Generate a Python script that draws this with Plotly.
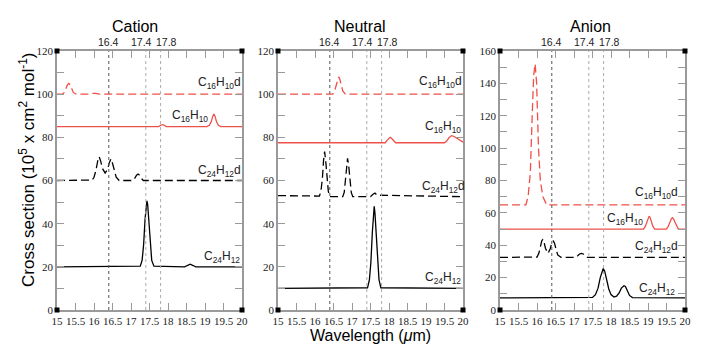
import plotly.graph_objects as go

# ---- data ----
panels = ["Cation", "Neutral", "Anion"]
ymax = [120, 120, 160]
vlines = [16.4, 17.4, 17.8]
vline_labels = ["16.4", "17.4", "17.8"]
xticks = [15, 15.5, 16, 16.5, 17, 17.5, 18, 18.5, 19, 19.5, 20]

# Cation
cat_c16d_x = [15, 15.15, 15.2, 15.24, 15.28, 15.32, 15.36, 15.4, 15.44, 15.5, 15.85, 15.95, 16.05, 16.15, 20]
cat_c16d_y = [100, 100.1, 100.8, 102.5, 104.3, 105, 104.3, 102.5, 100.8, 100.1, 100, 100.4, 100.4, 100, 100]
cat_c16_x = [15, 17.75, 17.82, 17.88, 17.95, 19.05, 19.12, 19.17, 19.21, 19.24, 19.27, 19.31, 19.36, 19.43, 20]
cat_c16_y = [85, 85, 85.8, 85.8, 85, 85, 85.6, 87.3, 89.8, 90.8, 89.8, 87.3, 85.6, 85, 85]
cat_c24d_x = [15, 15.95, 16.0, 16.05, 16.1, 16.14, 16.18, 16.23, 16.3, 16.36, 16.42, 16.46, 16.5, 16.55,
              16.6, 16.68, 17.05, 17.1, 17.15, 17.19, 17.23, 17.28, 17.33, 20]
cat_c24d_y = [60, 60.2, 61.5, 64.5, 69, 71, 69, 65.5, 63.5, 65, 68.5, 70, 68, 64, 61.5, 60,
              60, 61, 62.5, 63, 62.5, 61, 60, 60]
cat_c24_x = [15, 17.25, 17.3, 17.34, 17.38, 17.41, 17.43, 17.45, 17.48, 17.52, 17.56, 17.62,
             18.45, 18.52, 18.6, 18.68, 18.75, 20]
cat_c24_y = [20, 20.3, 23, 30, 42, 49, 50.6, 49, 42, 30, 23, 20.3,
             20, 20.6, 21.2, 20.6, 20, 20]

# Neutral
neu_c16d_x = [15, 16.48, 16.53, 16.57, 16.61, 16.64, 16.67, 16.71, 16.75, 16.82, 20]
neu_c16d_y = [100, 100, 101.5, 104, 107, 108, 107, 104, 101.5, 100, 100]
neu_c16_x = [15, 17.9, 17.95, 18.0, 18.03, 18.06, 18.11, 18.18, 19.5, 19.56, 19.62, 19.69,
             19.76, 19.84, 19.92, 20]
neu_c16_y = [77.5, 77.5, 78.6, 79.7, 80, 79.7, 78.6, 77.5, 77.5, 78.3, 79.8, 80.8,
             80.4, 79.5, 78.4, 77.8]
neu_c24d_x = [15, 16.12, 16.16, 16.2, 16.23, 16.26, 16.29, 16.32, 16.36, 16.4, 16.75, 16.79,
              16.82, 16.85, 16.88, 16.91, 16.94, 16.98, 17.02, 17.5, 17.56, 17.62, 17.68, 20]
neu_c24d_y = [53, 52.8, 55, 61, 69, 73.4, 69, 61, 55, 52.5, 52.5, 54.5, 60, 67, 70.3, 67,
              60, 54.5, 52.5, 52.5, 53.5, 54.2, 53.2, 52.5]
neu_c24_x = [15, 17.42, 17.47, 17.51, 17.55, 17.58, 17.6, 17.62, 17.65, 17.69, 17.73, 17.78, 20]
neu_c24_y = [10, 10.3, 14, 22, 36, 45, 48, 45, 36, 22, 14, 10.3, 10]

# Anion
ani_c16d_x = [15, 15.7, 15.76, 15.82, 15.87, 15.91, 15.95, 15.99, 16.04, 16.09, 16.16, 16.26, 20]
ani_c16d_y = [65, 65, 70, 85, 120, 145, 152, 140, 100, 80, 70, 65, 65]
ani_c16_x = [15, 18.88, 18.93, 18.97, 19.0, 19.03, 19.06, 19.09, 19.13, 19.18, 19.5, 19.55,
             19.59, 19.63, 19.66, 19.69, 19.73, 19.77, 19.82, 20]
ani_c16_y = [50, 50, 51.8, 54.5, 57, 58, 57, 54.5, 51.8, 50, 50, 51.8, 54.2, 56.3, 57,
             56.3, 54.2, 51.8, 50, 50]
ani_c24d_x = [15, 16.0, 16.05, 16.09, 16.13, 16.16, 16.19, 16.23, 16.3, 16.36, 16.4, 16.44,
              16.47, 16.51, 16.56, 16.65, 17.05, 17.1, 17.15, 17.2, 17.25, 17.3, 17.36, 20]
ani_c24d_y = [32.5, 32.7, 35, 39, 42.8, 43.7, 42, 38, 35, 38, 41.5, 42.6, 41.5, 38,
              34, 32.5, 32.5, 33.5, 34.6, 35, 34.6, 33.5, 32.5, 32.5]
ani_c24_x = [15, 17.5, 17.58, 17.65, 17.71, 17.76, 17.79, 17.83, 17.88, 17.94, 18.0, 18.08,
             18.15, 18.22, 18.28, 18.32, 18.35, 18.39, 18.44, 18.5, 18.58, 20]
ani_c24_y = [7.5, 7.8, 9.5, 13.5, 20, 24.5, 25.6, 24, 19, 13, 9.5, 8,
             8.5, 10.5, 13.5, 14.8, 15, 14.5, 12, 9, 7.7, 7.5]

curves = [
    [(cat_c16d_x, cat_c16d_y), (cat_c16_x, cat_c16_y), (cat_c24d_x, cat_c24d_y), (cat_c24_x, cat_c24_y)],
    [(neu_c16d_x, neu_c16d_y), (neu_c16_x, neu_c16_y), (neu_c24d_x, neu_c24d_y), (neu_c24_x, neu_c24_y)],
    [(ani_c16d_x, ani_c16d_y), (ani_c16_x, ani_c16_y), (ani_c24d_x, ani_c24d_y), (ani_c24_x, ani_c24_y)],
]
species = ["C<sub>16</sub>H<sub>10</sub>d", "C<sub>16</sub>H<sub>10</sub>",
           "C<sub>24</sub>H<sub>12</sub>d", "C<sub>24</sub>H<sub>12</sub>"]
colors = ["#f0504a", "#f0504a", "black", "black"]
dashes = ["8px,4px", "solid", "8px,4px", "solid"]
# label positions (x, y) per panel
label_pos = [
    [(19.4, 105), (18.6, 90), (19.4, 64.5), (19.45, 24.5)],
    [(19.38, 105.5), (19.47, 85), (19.47, 57), (19.45, 14.8)],
    [(19.24, 72), (18.38, 56), (19.24, 38.8), (19.24, 13)],
]

W, H = 706, 349
xdom = [(57, 242), (278, 463), (500, 685)]
title_x = [135, 360, 590]
ydom = [(349 - 310) / H, (349 - 51) / H]
top_shift = [0, -4, 6]

fig = go.Figure()
serif = "Liberation Serif"
sans = "Liberation Sans"
axcol = "#9a9a9a"

for p in range(3):
    xa = "x" if p == 0 else f"x{p + 1}"
    ya = "y" if p == 0 else f"y{p + 1}"
    for i, (xs, ys) in enumerate(curves[p]):
        fig.add_trace(go.Scatter(x=xs, y=ys, mode="lines", xaxis=xa, yaxis=ya,
                                 line=dict(color=colors[i], dash=dashes[i], width=1.3),
                                 showlegend=False))

    d = (xdom[p][0] / W, xdom[p][1] / W)
    xk = "xaxis" if p == 0 else f"xaxis{p + 1}"
    yk = "yaxis" if p == 0 else f"yaxis{p + 1}"
    fig.layout[xk] = dict(domain=d, anchor=ya, range=[15, 20], tickvals=xticks,
                          ticktext=[f"{v:g}" for v in xticks], ticks="inside", ticklen=7,
                          tickcolor=axcol, showline=True, linecolor=axcol, linewidth=1.5,
                          mirror="ticks", showgrid=False, zeroline=False, tickangle=0,
                          automargin=False,
                          tickfont=dict(family=serif, size=11, color="#222"))
    fig.layout[yk] = dict(domain=ydom, anchor=xa, range=[0, ymax[p]], dtick=20,
                          ticks="inside", ticklen=7, tickcolor=axcol, showline=True,
                          linecolor=axcol, linewidth=1.5, mirror="ticks", showgrid=False,
                          zeroline=False, automargin=False,
                          minor=dict(dtick=10, ticks="inside", ticklen=7, tickcolor=axcol),
                          tickfont=dict(family=serif, size=11, color="#222"))
    for j, v in enumerate(vlines):
        fig.add_shape(type="line", xref=xa, yref=f"{ya} domain", x0=v, x1=v, y0=0, y1=1,
                      line=dict(color="#555" if j == 0 else "#aaa", width=1, dash="dot"))
        fig.add_annotation(x=v, y=1, xref=xa, yref=f"{ya} domain", text=vline_labels[j],
                           showarrow=False, xanchor="center", yanchor="bottom",
                           xshift=top_shift[j], yshift=1,
                           font=dict(family=sans, size=10.5, color="#222"))
    for cx in (0, 1):
        for cy in (0, 1):
            fig.add_shape(type="rect", xref=f"{xa} domain", yref=f"{ya} domain",
                          x0=-2.5, x1=2.5, y0=-2.5, y1=2.5, xsizemode="pixel",
                          ysizemode="pixel", xanchor=cx, yanchor=cy, line=dict(width=0),
                          fillcolor="black")
    for i, (lx, ly) in enumerate(label_pos[p]):
        fig.add_annotation(x=lx, y=ly, xref=xa, yref=ya, text=species[i], showarrow=False,
                           xanchor="center", yanchor="middle",
                           font=dict(family=sans, size=12, color="#222"))
    fig.add_annotation(x=title_x[p] / W, y=(349 - 27) / H, xref="paper", yref="paper",
                       text=panels[p], showarrow=False, xanchor="center", yanchor="middle",
                       font=dict(family=sans, size=16, color="black"))

fig.add_annotation(x=27 / W, y=(349 - 170) / H, xref="paper", yref="paper",
                   text="Cross section (10<sup>5</sup> x cm<sup>2</sup> mol<sup>-1</sup>)",
                   textangle=-90, showarrow=False, xanchor="center", yanchor="middle",
                   font=dict(family=sans, size=17, color="black"))
fig.add_annotation(x=370 / W, y=(349 - 335) / H, xref="paper", yref="paper",
                   text="Wavelength (<i>μ</i>m)", showarrow=False,
                   xanchor="center", yanchor="middle",
                   font=dict(family=sans, size=16, color="black"))

fig.update_layout(width=W, height=H, margin=dict(l=0, r=0, t=0, b=0),
                  plot_bgcolor="white", paper_bgcolor="white")

fig.write_html("out.html", config={"displayModeBar": False},
               post_script="document.body.style.margin='0px';document.body.style.overflow='hidden';")
